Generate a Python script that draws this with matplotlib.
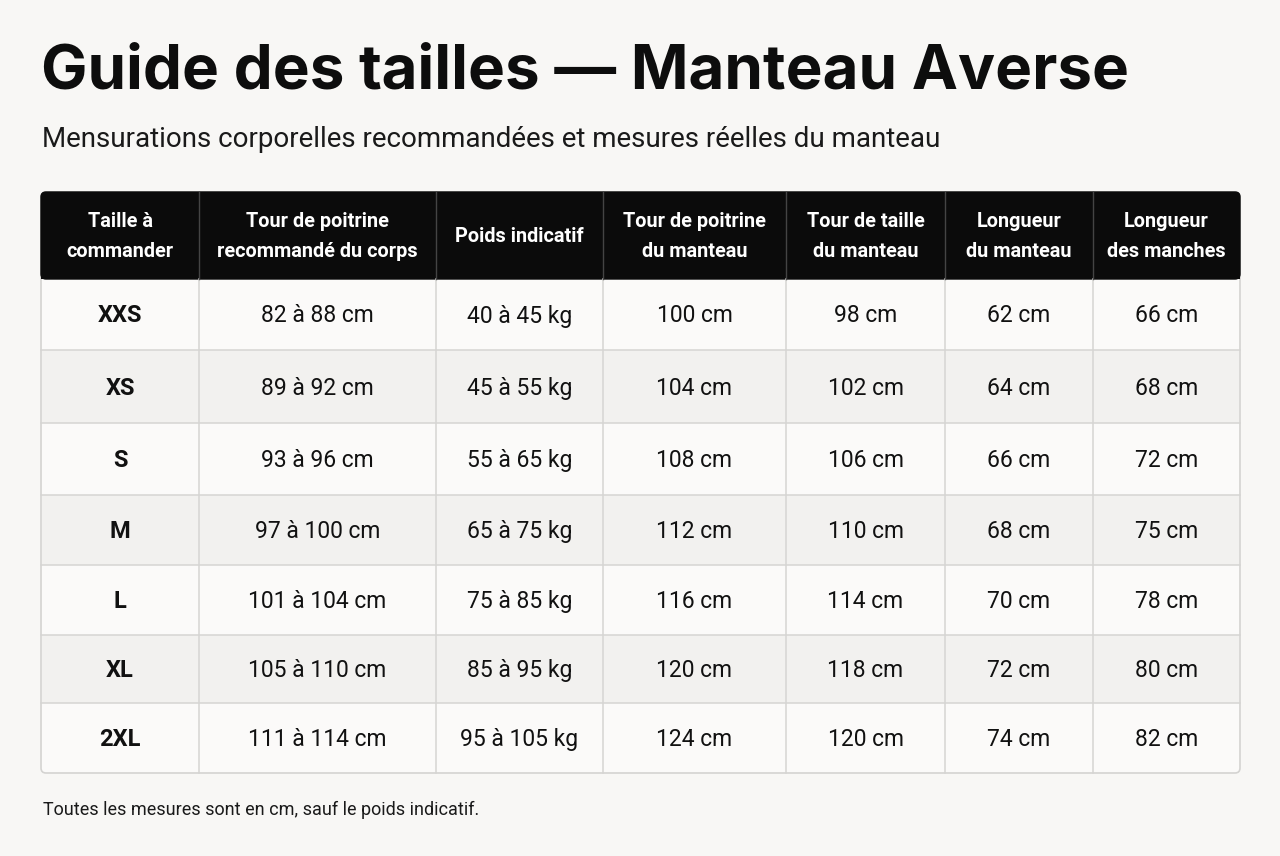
import matplotlib
matplotlib.use('Agg')
import matplotlib.pyplot as plt
from matplotlib.patches import Rectangle, FancyBboxPatch

# --- data ---
title = "Guide des tailles — Manteau Averse"
subtitle = "Mensurations corporelles recommandées et mesures réelles du manteau"
footnote = "Toutes les mesures sont en cm, sauf le poids indicatif."

headers = ["Taille à\ncommander", "Tour de poitrine\nrecommandé du corps", "Poids indicatif",
           "Tour de poitrine\ndu manteau", "Tour de taille\ndu manteau",
           "Longueur\ndu manteau", "Longueur\ndes manches"]
sizes = ["XXS", "XS", "S", "M", "L", "XL", "2XL"]
chest_body = ["82 à 88 cm", "89 à 92 cm", "93 à 96 cm", "97 à 100 cm",
              "101 à 104 cm", "105 à 110 cm", "111 à 114 cm"]
weight = ["40 à 45 kg", "45 à 55 kg", "55 à 65 kg", "65 à 75 kg",
          "75 à 85 kg", "85 à 95 kg", "95 à 105 kg"]
coat_chest = [100, 104, 108, 112, 116, 120, 124]
coat_waist = [98, 102, 106, 110, 114, 118, 120]
coat_length = [62, 64, 66, 68, 70, 72, 74]
sleeve_length = [66, 68, 72, 75, 78, 80, 82]

# --- layout (pixels) ---
W, H = 1280, 856
col_edges = [41, 199, 436, 603, 786, 945, 1093, 1240]
row_edges = [279, 350, 423, 495, 565, 635, 703, 773]
table_top = 192
header_bottom, table_bottom = row_edges[0], row_edges[-1]

BG = '#f8f7f5'
NARROW = ['Liberation Sans Narrow', 'Roboto', 'DejaVu Sans']

fig = plt.figure(figsize=(W / 100, H / 100), dpi=100, facecolor=BG)
ax = fig.add_axes([0, 0, 1, 1])
ax.set_xlim(0, W)
ax.set_ylim(H, 0)
ax.axis('off')

# titles
ax.text(41, 72, title, fontsize=44.6, fontweight='bold', family=['Inter', 'Lato', 'DejaVu Sans'],
        ha='left', va='center', color='#0d0d0d')
ax.text(42, 139, subtitle, fontsize=20, family=NARROW, ha='left', va='center', color='#1a1a1a')
ax.text(43, 810, footnote, fontsize=13, family=NARROW, ha='left', va='center', color='#1a1a1a')

# table body background + outer border
ax.add_patch(FancyBboxPatch((col_edges[0], table_top), col_edges[-1] - col_edges[0],
                            table_bottom - table_top, boxstyle='round,pad=0,rounding_size=5',
                            facecolor='#fbfaf9', edgecolor='#d4d3d1', linewidth=1.2, zorder=1))
# header
ax.add_patch(FancyBboxPatch((col_edges[0], table_top), col_edges[-1] - col_edges[0],
                            header_bottom - table_top, boxstyle='round,pad=0,rounding_size=5',
                            facecolor='#0b0b0b', edgecolor='#0b0b0b', linewidth=1, zorder=2))
ax.add_patch(Rectangle((col_edges[0], table_top + 20), col_edges[-1] - col_edges[0],
                       header_bottom - table_top - 20, facecolor='#0b0b0b', edgecolor='none', zorder=2))

rows = list(zip(sizes, chest_body, weight,
                [f"{v} cm" for v in coat_chest], [f"{v} cm" for v in coat_waist],
                [f"{v} cm" for v in coat_length], [f"{v} cm" for v in sleeve_length]))

for i, row in enumerate(rows):
    y0, y1 = row_edges[i], row_edges[i + 1]
    if i % 2 == 1:
        ax.add_patch(Rectangle((col_edges[0] + 0.6, y0), col_edges[-1] - col_edges[0] - 1.2, y1 - y0,
                               facecolor='#f2f1ef', edgecolor='none', zorder=1.5))
    if i > 0:
        ax.plot([col_edges[0], col_edges[-1]], [y0, y0], color='#d6d5d3', lw=1.1, zorder=3)
    for j, val in enumerate(row):
        cx = (col_edges[j] + col_edges[j + 1]) / 2
        ax.text(cx, (y0 + y1) / 2 + 1.5, val, ha='center', va='center',
                fontsize=17 if j == 0 else 16.5, fontweight='bold' if j == 0 else 'normal',
                family=NARROW, color='#111111', zorder=4)

# vertical lines
for x in col_edges[1:-1]:
    ax.plot([x, x], [header_bottom, table_bottom], color='#d6d5d3', lw=1.1, zorder=3)
    ax.plot([x, x], [table_top, header_bottom], color='#444444', lw=1.0, zorder=3)

for j, h in enumerate(headers):
    cx = (col_edges[j] + col_edges[j + 1]) / 2
    ax.text(cx, (table_top + header_bottom) / 2 + 1, h, ha='center', va='center',
            fontsize=14.3, fontweight='bold', family=NARROW, color='white',
            linespacing=1.72, zorder=4)

fig.savefig('out.png', dpi=100, facecolor=BG)
